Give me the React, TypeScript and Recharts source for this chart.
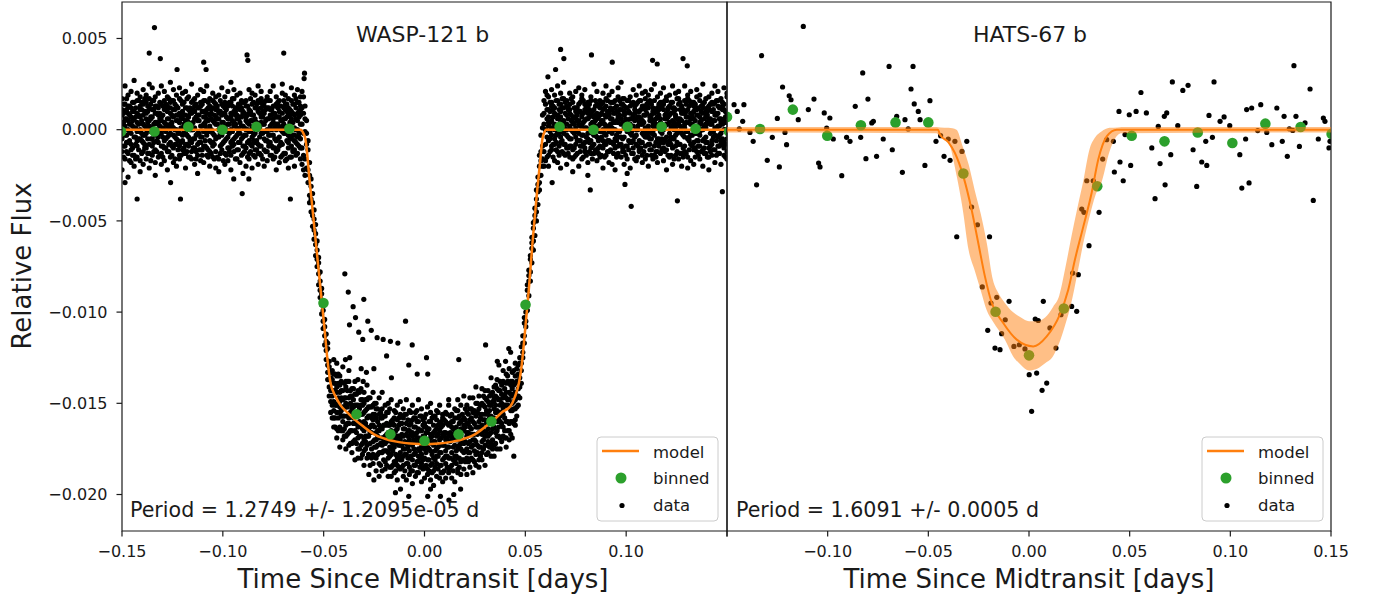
import { ComposedChart, XAxis, YAxis, Scatter, Line, Area, ReferenceArea } from "recharts";

const FONT = "DejaVu Sans";
const ORANGE = "#ff7f0e";
const GREEN = "#2ca02c";
const INK = "#1a1a1a";

// axes
const xTicks = [-0.15, -0.1, -0.05, 0, 0.05, 0.1, 0.15];
const yTicks = [0.005, 0, -0.005, -0.01, -0.015, -0.02];
const xDomain = [-0.15, 0.15];
const yDomain = [-0.022, 0.007];

// WASP-121 b: x in 1e-3 days, flux in 1e-4. Rows are [time, flux, flux, ...]
const waspColumns: number[][] = [
  [-150, 8, -12, 3, 17, -5, -22, 11, -1],
  [-148.5, -9, 14, 2, -16, 6, 24, -3, 10],
  [-147, 5, -7, 19, -13, 0, 9, -26, 13],
  [-145.5, -2, 12, -18, 7, 21, -8, 3, -11],
  [-144, 15, -4, 6, -20, 10, -14, 27, 1],
  [-142.5, -6, 9, -15, 16, -1, 4, -9, 20],
  [-141, 11, -17, 0, 7, -23, 13, -5, 18],
  [-139.5, -12, 3, 22, -7, 8, -3, 14, -19],
  [-138, 6, -10, 15, -2, 19, -16, 1, 9],
  [-136.5, 2, 17, -8, 12, -13, 5, -21, 25],
  [-135, -14, 7, 1, -5, 11, 23, -9, 16],
  [-133.5, 9, -3, 13, -18, 4, -11, 18, -25],
  [-132, -7, 20, -1, 8, -15, 3, 12, -4],
  [-130.5, 14, -9, 5, -19, 24, -2, 7, -13],
  [-129, 0, 11, -6, 16, -10, 21, -17, 4],
  [-127.5, -4, 6, 18, -12, 2, -22, 10, 13],
  [-126, 12, -15, 3, 9, -7, 15, 26, -2],
  [-124.5, -10, 1, 16, -3, 7, -18, 11, 22],
  [-123, 5, -8, -20, 13, 0, 19, -5, 8],
  [-121.5, 17, -2, 9, -14, 4, -9, 23, -16],
  [-120, -3, 10, -11, 6, 20, -6, 1, 14],
  [-118.5, 8, -13, 21, -1, 12, -21, 5, -8],
  [-117, -15, 4, 7, 18, -9, 2, -4, 11],
  [-115.5, 3, 15, -7, -16, 9, 25, -12, 0],
  [-114, 10, -5, 13, -10, 1, -19, 17, 6],
  [-112.5, -8, 19, -2, 5, -14, 8, -24, 12],
  [-111, 13, -11, 2, 22, -4, 15, -7, -17],
  [-109.5, -1, 7, -18, 10, 16, -9, 3, 21],
  [-108, 6, -14, 11, -3, 24, 0, -10, 9],
  [-106.5, -12, 2, 17, -6, 8, -20, 13, -1],
  [-105, 16, -7, -2, 12, -15, 5, 20, -9],
  [-103.5, -5, 11, 7, -21, 3, 14, -12, 18],
  [-102, 9, -16, 0, 6, 19, -4, 10, -23],
  [-100.5, -11, 4, 14, -8, 1, 23, -3, 8],
  [-99, 2, 18, -13, 9, -6, 12, -19, 15],
  [-97.5, 13, -4, 6, -17, 21, -10, 3, -1],
  [-96, -7, 9, -22, 15, 0, 7, -14, 26],
  [-94.5, 4, -12, 10, 2, -8, 17, 22, -5],
  [-93, -16, 6, 1, 19, -3, -11, 12, 8],
  [-91.5, 11, -2, -18, 7, 14, 4, -7, 20],
  [-90, -4, 15, 9, -13, -24, 10, 2, -9],
  [-88.5, 7, -10, 16, 0, 5, -20, 13, -3],
  [-87, -13, 3, -6, 22, 11, -1, -16, 9],
  [-85.5, 5, 20, -9, -4, 14, 8, -21, 1],
  [-84, -2, -15, 12, 6, -11, 19, 4, -7],
  [-82.5, 16, 1, -8, 10, -19, 3, 24, -13],
  [-81, -9, 12, 4, -14, 7, -2, 17, 21],
  [-79.5, 3, -20, 15, -5, 9, 13, -11, -1],
  [-78, 12, -6, -1, 18, -12, 6, 0, -17],
  [-76.5, -14, 8, 21, 2, -7, -3, 11, 16],
  [-75, 6, -3, -16, 13, 24, -10, 4, 9],
  [-73.5, -6, 14, 0, -12, 3, 18, -22, 7],
  [-72, 10, -9, 7, 16, -18, 1, 13, -4],
  [-70.5, -1, 5, -14, 9, 20, -8, 2, 25],
  [-69, 14, -17, 11, -2, 6, -13, 19, 0],
  [-67.5, -10, 2, 17, -7, -21, 12, 8, -3],
  [-66, 4, 16, -5, 10, -9, 23, -15, 6],
  [-64.5, -3, -11, 8, 19, 1, -6, 14, -20],
  [-63, 9, 0, -13, 5, 15, -4, 22, -8],
  [-61.5, -5, 13, 3, -10, 8, 18, -16, 11],
  // ingress
  [-60.75, 12, -10, 3, -19, 21],
  [-60, 9, -14, -2, 18, -22],
  [-59.25, -16, 6, -1, 13, -25],
  [-58.5, -2, -21, -8, 5],
  [-57.75, -29, -11, -22, -6],
  [-57, -18, -36, -25, -40],
  [-56.25, -45, -27, -38, -31],
  [-55.5, -35, -53, -47, -40],
  [-54.75, -60, -44, -55, -49],
  [-54, -52, -69, -63, -57],
  [-53.25, -75, -61, -71, -66],
  [-52.5, -70, -85, -79, -73],
  [-51.75, -92, -78, -88, -83],
  [-51, -87, -101, -96, -90],
  [-50.25, -109, -95, -105, -99],
  [-49.5, -104, -118, -113, -108],
  [-48.75, -126, -112, -121, -116],
  [-48, -120, -133, -129, -137, -117],
  [-47.25, -141, -127, -137, -146, -130],
  [-46.5, -133, -149, -143, -155, -136],
  [-45.75, -151, -137, -146, -158, -132],
  // in transit
  [-45, -134, -154, -143, -163, -126, -149, -139, -158],
  [-43.5, -155, -135, -164, -144, -151, -128, -169, -141],
  [-42, -135, -155, -144, -174, -149, -163, -140, -152],
  [-40.5, -165, -148, -130, -160, -143, -170, -152, -157],
  [-39, -152, -168, -141, -147, -175, -138, -162, -150],
  [-37.5, -173, -147, -161, -138, -157, -166, -132, -158],
  [-36, -151, -177, -157, -146, -165, -153, -142, -172],
  [-34.5, -138, -165, -170, -156, -145, -181, -151, -161],
  [-33, -169, -156, -143, -175, -151, -163, -180, -137],
  [-31.5, -148, -173, -162, -156, -180, -142, -168, -151],
  [-30, -165, -144, -176, -155, -160, -184, -150, -170],
  [-28.5, -158, -180, -153, -168, -140, -173, -163, -148],
  [-27, -179, -157, -163, -147, -172, -152, -184, -166],
  [-25.5, -156, -171, -144, -178, -162, -183, -159, -151],
  [-24, -174, -153, -187, -166, -150, -170, -158, -180],
  [-22.5, -165, -177, -156, -147, -183, -162, -169, -190],
  [-21, -153, -169, -177, -164, -158, -187, -144, -173],
  [-19.5, -182, -162, -151, -176, -172, -157, -186, -168],
  [-18, -162, -190, -166, -155, -180, -169, -150, -177],
  [-16.5, -175, -160, -185, -171, -148, -178, -165, -190],
  [-15, -158, -174, -162, -188, -169, -154, -182, -166],
  [-13.5, -180, -151, -172, -164, -192, -159, -168, -184],
  [-12, -170, -186, -156, -177, -161, -173, -149, -181],
  [-10.5, -153, -179, -184, -168, -190, -164, -175, -158],
  [-9, -178, -167, -161, -192, -156, -183, -172, -148],
  [-7.5, -162, -185, -170, -154, -176, -189, -165, -180],
  [-6, -187, -168, -151, -173, -181, -159, -194, -166],
  [-4.5, -167, -190, -163, -158, -177, -184, -155, -171],
  [-3, -182, -160, -175, -188, -148, -169, -179, -164],
  [-1.5, -157, -178, -193, -165, -172, -153, -183, -174],
  [0, -175, -163, -158, -185, -168, -191, -161, -180],
  [1.5, -164, -186, -170, -152, -181, -166, -174, -189],
  [3, -184, -169, -155, -176, -160, -192, -167, -150],
  [4.5, -166, -180, -187, -162, -173, -157, -195, -171],
  [6, -179, -154, -168, -183, -164, -175, -159, -190],
  [7.5, -161, -177, -191, -170, -151, -184, -165, -173],
  [9, -173, -158, -181, -188, -167, -162, -193, -156],
  [10.5, -155, -183, -166, -176, -191, -170, -160, -179],
  [12, -186, -168, -151, -180, -162, -174, -188, -148],
  [13.5, -167, -191, -160, -156, -177, -184, -170, -163],
  [15, -179, -164, -173, -193, -153, -166, -182, -158],
  [16.5, -158, -175, -154, -170, -186, -148, -180, -188],
  [18, -175, -160, -182, -164, -168, -189, -151, -172],
  [19.5, -162, -186, -165, -177, -146, -158, -172, -181],
  [21, -180, -168, -155, -151, -175, -189, -161, -166],
  [22.5, -153, -177, -171, -159, -185, -163, -181, -147],
  [24, -170, -147, -160, -181, -167, -155, -188, -173],
  [25.5, -157, -178, -184, -163, -150, -171, -156, -141],
  [27, -181, -160, -153, -166, -174, -146, -163, -185],
  [28.5, -162, -171, -142, -156, -177, -167, -150, -181],
  [30, -173, -147, -168, -152, -159, -184, -156, -143],
  [31.5, -149, -164, -156, -177, -143, -161, -171, -168],
  [33, -166, -151, -179, -157, -136, -172, -145, -160],
  [34.5, -141, -173, -158, -163, -149, -153, -179, -147],
  [36, -160, -147, -168, -137, -165, -142, -154, -175],
  [37.5, -151, -175, -143, -157, -160, -148, -138, -169],
  [39, -168, -151, -147, -163, -138, -156, -132, -153],
  [40.5, -144, -160, -169, -139, -151, -174, -147, -134],
  [42, -161, -139, -152, -165, -131, -148, -170, -144],
  [43.5, -146, -160, -133, -142, -154, -169, -138, -150],
  [45, -153, -135, -159, -144, -128, -148, -139, -162],
  // egress
  [45.75, -138, -152, -147, -131, -157],
  [46.5, -146, -134, -142, -151, -129],
  [47.25, -128, -141, -136, -147, -125],
  [48, -132, -119, -128, -139],
  [48.75, -113, -125, -117, -122],
  [49.5, -117, -106, -113, -103],
  [50.25, -96, -108, -100, -105],
  [51, -99, -88, -95, -85],
  [51.75, -80, -91, -83, -77],
  [52.5, -83, -71, -78, -69],
  [53.25, -62, -73, -65, -59],
  [54, -66, -54, -61, -51],
  [54.75, -47, -58, -50, -43],
  [55.5, -50, -38, -45, -33],
  [56.25, -30, -41, -34, -26],
  [57, -33, -20, -29, -14],
  [57.75, -12, -25, -17, -3],
  [58.5, -16, 1, -9, 8, -20],
  [59.25, 3, -12, 9, -20, 16],
  [60, -8, 14, 0, -17, 21],
  [60.75, 6, -15, 11, -4, 19],
  // after egress
  [61.5, 7, -14, 2, 18, -6, 11, -20, 4],
  [63, -11, 5, 15, -3, 22, -9, 1, 13],
  [64.5, 3, 19, -8, -17, 9, 0, 12, -5],
  [66, 16, -2, 6, -12, -1, 24, -18, 8],
  [67.5, -7, 10, -21, 4, 14, -4, 7, 20],
  [69, 12, -13, 1, 17, -8, 5, 26, -2],
  [70.5, -3, 8, 13, -10, 3, -19, 16, 0],
  [72, 9, -5, -15, 11, 20, 2, -9, 14],
  [73.5, -16, 15, 4, -1, -11, 18, 6, -23],
  [75, 1, -8, 21, 7, -4, 12, -14, 10],
  [76.5, 14, 3, -6, -20, 10, -2, 23, 5],
  [78, -9, 17, 9, 2, -16, 7, -3, 19],
  [79.5, 5, -12, 14, -7, 1, 22, -10, 11],
  [81, -2, 6, -18, 15, 9, -5, 13, -25],
  [82.5, 18, -10, 0, 8, -13, 16, 3, -6],
  [84, -13, 4, 11, -3, 25, -8, 7, 1],
  [85.5, 6, 21, -4, -11, 2, 14, -17, 9],
  [87, -5, -15, 16, 3, 12, -1, 8, -9],
  [88.5, 11, 0, -10, 20, -6, 5, -21, 15],
  [90, -8, 13, 7, -14, 17, -3, 2, 24],
  [91.5, 2, -6, 19, 10, -18, 8, -12, -1],
  [93, 15, -19, -2, 6, 1, 21, 11, -7],
  [94.5, -10, 9, 12, -5, -22, 4, 16, 0],
  [96, 4, -1, -13, 23, 7, -9, 10, 18],
  [97.5, -15, 11, 3, -8, 14, 26, -4, 6],
  [99, 8, -4, 17, 1, -12, 10, -19, 13],
  [100.5, -1, 16, -9, 12, 5, -16, 2, -24],
  [102, 13, -7, 6, -21, 18, -2, 9, 3],
  [103.5, -6, 2, 22, 8, -10, 15, -13, 7],
  [105, 10, -17, -3, 14, 0, 6, 19, -8],
  [106.5, -12, 7, 10, -6, 24, -11, 4, 16],
  [108, 3, 20, -14, 5, -2, 13, -7, -18],
  [109.5, 17, -9, 1, -16, 11, -4, 21, 8],
  [111, -4, 12, 15, 0, -8, 19, -20, 2],
  [112.5, 8, -2, -11, 22, 6, -14, 14, -5],
  [114, -14, 5, 9, -9, 16, 1, -3, 25],
  [115.5, 1, -18, 18, 7, -5, 10, 12, -12],
  [117, 12, 4, -7, -13, 20, -1, 6, 15],
  [118.5, -7, 14, 2, 11, -17, 23, -10, 0],
  [120, 6, -11, 16, -4, 3, -22, 9, 18],
  [121.5, -2, 19, -8, 13, 8, -6, -15, 4],
  [123, 15, -5, 5, -19, 12, 2, 24, -10],
  [124.5, -9, 8, 20, 1, -14, 11, -3, 7],
  [126, 4, -16, -1, 17, 6, -8, 14, 21],
  [127.5, -13, 10, 13, -2, -20, 5, 0, 9],
  [129, 9, 1, -12, 24, 3, 16, -9, -4],
  [130.5, -5, 17, 7, -15, 11, -1, 19, -21],
  [132, 14, -8, 3, 9, -3, 21, -17, 6],
  [133.5, -11, 6, -19, 15, 2, -7, 10, 13],
  [135, 2, 22, 11, -6, -12, 8, -2, 18],
  [136.5, 16, -3, -9, 4, 19, -16, 7, -1],
  [138, -6, 9, 14, -20, 0, 12, 25, -11],
  [139.5, 7, -13, 1, 10, -7, 17, -4, 3],
  [141, -15, 4, 18, 6, 13, -10, -22, 11],
  [142.5, 10, -1, -6, 20, -14, 3, 15, -8],
  [144, -3, 15, 8, -11, 5, 24, -18, 1],
  [145.5, 13, -9, 21, 2, -4, -13, 9, 16],
  [147, -8, 6, -2, 12, 17, -19, 4, -6],
  [148.5, 5, -14, 11, -7, 23, 0, -10, 14],
  [150, -1, 18, -5, 9, -16, 7, 20, -12],
];

// second pass of exposures, sampled between the columns above
const waspColumns2: number[][] = [
  [-149.25, 4, -9, 14, -15, 0, 9],
  [-147.75, -3, 11, -12, 6, 17, -7],
  [-146.25, 13, -1, -17, 8, -6, 3],
  [-144.75, -10, 5, 2, 15, -14, 10],
  [-143.25, 7, -16, 12, -4, 1, -8],
  [-141.75, -1, 8, -11, 3, 16, -5],
  [-140.25, 15, -6, 5, -13, -2, 11],
  [-138.75, -8, 2, 17, -10, 10, -3],
  [-137.25, 10, -13, -5, 4, 13, 0],
  [-135.75, -5, 14, 7, -17, -1, 6],
  [-134.25, 3, -7, 11, -2, 16, -12],
  [-132.75, -12, 9, 0, 13, -6, 4],
  [-131.25, 6, -2, -14, 9, 2, 15],
  [-129.75, -4, 13, 8, -9, -15, 1],
  [-128.25, 11, -10, 3, -5, 14, -1],
  [-126.75, 1, 6, -12, 17, -3, -8],
  [-125.25, -9, 16, 4, -14, 8, 2],
  [-123.75, 14, -4, -8, 0, 11, -16],
  [-122.25, -2, 8, 12, -11, 5, -6],
  [-120.75, 9, -14, 1, 7, -7, 16],
  [-119.25, -13, 3, 15, -1, -10, 8],
  [-117.75, 5, -8, -3, 12, 17, -12],
  [-116.25, -6, 12, 9, -15, 2, 0],
  [-114.75, 16, 0, -10, 4, -5, 11],
  [-113.25, -3, -12, 6, 14, -16, 7],
  [-111.75, 8, 5, -7, -2, 12, -11],
  [-110.25, -11, 14, 2, 10, -4, -14],
  [-108.75, 2, -6, 16, -9, 7, 4],
  [-107.25, 12, -15, -1, 5, -11, 15],
  [-105.75, -7, 9, 11, -13, 0, 6],
  [-104.25, 4, -3, -16, 8, 15, -8],
  [-102.75, -15, 11, 6, -4, 3, 13],
  [-101.25, 10, -9, -2, 16, -13, 1],
  [-99.75, -1, 4, 13, -7, 9, -17],
  [-98.25, 7, -14, 0, 11, -5, 14],
  [-96.75, -10, 6, 15, -2, -12, 3],
  [-95.25, 13, -1, -9, 5, 17, -6],
  [-93.75, -4, 10, 3, -16, 8, 12],
  [-92.25, 6, -11, 14, 0, -7, -2],
  [-90.75, -14, 2, -5, 12, 16, 7],
  [-89.25, 9, 15, -12, -3, 1, -9],
  [-87.75, 0, -7, 8, 13, -15, 4],
  [-86.25, -12, 5, 17, -8, 10, -1],
  [-84.75, 8, -3, -14, 2, -6, 15],
  [-83.25, -6, 12, 4, -11, 14, 0],
  [-81.75, 15, -9, 1, 9, -4, -13],
  [-80.25, -2, 7, -16, 14, 3, 10],
  [-78.75, 5, -12, 11, -6, -1, 16],
  [-77.25, -9, 16, -3, 6, 12, -7],
  [-75.75, 11, 0, 8, -14, -9, 3],
  [-74.25, -15, 9, 13, 1, -5, -10],
  [-72.75, 3, -5, -11, 15, 7, 12],
  [-71.25, -7, 13, 5, -8, 0, -15],
  [-69.75, 12, -2, -13, 3, 16, 6],
  [-68.25, -1, 10, 7, -16, -6, 14],
  [-66.75, 8, -15, 2, 11, 4, -4],
  [-65.25, -11, 4, 14, -3, -12, 9],
  [-63.75, 6, 17, -7, 0, 12, -14],
  [-62.25, -4, -9, 10, 7, -2, 15],
  [-44.25, -143, -158, -134, -151, -139, -163],
  [-42.75, -158, -139, -150, -165, -134, -147],
  [-41.25, -143, -157, -165, -147, -154, -138],
  [-39.75, -157, -147, -139, -164, -152, -168],
  [-38.25, -143, -167, -152, -161, -138, -157],
  [-36.75, -165, -155, -146, -172, -150, -143],
  [-35.25, -152, -171, -161, -148, -158, -142],
  [-33.75, -172, -151, -157, -166, -145, -161],
  [-32.25, -160, -168, -144, -175, -153, -156],
  [-30.75, -151, -164, -172, -156, -178, -148],
  [-29.25, -168, -148, -161, -175, -154, -171],
  [-27.75, -157, -178, -152, -164, -168, -147],
  [-26.25, -175, -162, -166, -152, -180, -158],
  [-24.75, -163, -174, -150, -170, -156, -179],
  [-23.25, -153, -168, -178, -160, -173, -165],
  [-21.75, -172, -158, -163, -184, -155, -177],
  [-20.25, -162, -181, -171, -157, -169, -176],
  [-18.75, -184, -167, -155, -176, -161, -171],
  [-17.25, -168, -179, -162, -185, -153, -174],
  [-15.75, -159, -176, -184, -167, -172, -161],
  [-14.25, -178, -155, -170, -182, -165, -187],
  [-12.75, -162, -173, -185, -158, -179, -168],
  [-11.25, -173, -161, -167, -181, -157, -185],
  [-9.75, -156, -178, -175, -164, -187, -171],
  [-8.25, -183, -168, -159, -174, -165, -180],
  [-6.75, -167, -187, -179, -155, -172, -161],
  [-5.25, -175, -163, -184, -170, -158, -178],
  [-3.75, -160, -182, -166, -188, -169, -154],
  [-2.25, -180, -171, -157, -176, -185, -165],
  [-0.75, -168, -186, -162, -173, -159, -181],
  [0.75, -184, -166, -177, -156, -174, -163],
  [2.25, -164, -181, -170, -187, -160, -175],
  [3.75, -178, -158, -183, -168, -188, -172],
  [5.25, -157, -176, -165, -181, -171, -185],
  [6.75, -174, -162, -186, -167, -155, -179],
  [8.25, -163, -184, -169, -177, -160, -188],
  [9.75, -187, -166, -159, -173, -180, -168],
  [11.25, -169, -179, -185, -161, -156, -174],
  [12.75, -180, -157, -171, -185, -166, -161],
  [14.25, -160, -174, -181, -164, -187, -169],
  [15.75, -176, -163, -154, -183, -170, -179],
  [17.25, -157, -185, -166, -173, -161, -180],
  [18.75, -171, -165, -181, -156, -176, -159],
  [20.25, -163, -182, -159, -176, -153, -171],
  [21.75, -182, -166, -172, -156, -177, -161],
  [23.25, -158, -174, -153, -167, -180, -164],
  [24.75, -170, -154, -176, -182, -161, -167],
  [26.25, -150, -167, -163, -177, -155, -173],
  [27.75, -174, -158, -179, -156, -163, -151],
  [29.25, -159, -175, -151, -165, -170, -146],
  [30.75, -173, -161, -154, -178, -148, -166],
  [32.25, -154, -146, -167, -158, -174, -151],
  [33.75, -164, -170, -149, -144, -160, -175],
  [35.25, -146, -155, -166, -172, -151, -140],
  [36.75, -163, -148, -143, -168, -155, -159],
  [38.25, -155, -171, -150, -145, -161, -140],
  [39.75, -165, -151, -158, -142, -146, -169],
  [41.25, -138, -160, -151, -165, -135, -148],
  [42.75, -154, -140, -160, -145, -167, -138],
  [44.25, -140, -153, -132, -161, -145, -149],
  [62.25, 10, -5, -12, 4, 15, -1],
  [63.75, -8, 13, 1, -15, 7, 11],
  [65.25, 2, -11, 16, 8, -3, -7],
  [66.75, 14, 6, -9, -2, 11, -14],
  [68.25, -6, -1, 12, -12, 4, 17],
  [69.75, 9, -14, 3, 15, -8, 0],
  [71.25, -13, 11, -4, 6, 13, -10],
  [72.75, 5, 0, 17, -9, -5, 8],
  [74.25, -2, -10, 7, 12, -15, 3],
  [75.75, 12, 8, -13, -1, 5, -6],
  [77.25, -9, 15, 2, -6, -12, 10],
  [78.75, 4, -3, -8, 16, 9, -15],
  [80.25, -14, 10, 13, 1, -4, 6],
  [81.75, 7, -12, 0, -7, 14, 11],
  [83.25, 0, 4, -16, 10, -9, -2],
  [84.75, -11, 16, 5, -3, 8, 13],
  [86.25, 13, -6, -10, 7, 2, -13],
  [87.75, -4, 9, 14, -14, -1, 5],
  [89.25, 8, -15, -2, 3, 12, -8],
  [90.75, -12, 2, 10, 16, -6, 1],
  [92.25, 3, 12, -7, -11, 6, 15],
  [93.75, 15, -8, 4, 0, -13, 9],
  [95.25, -6, 5, -15, 13, 10, -3],
  [96.75, 11, -1, 8, -8, -4, 16],
  [98.25, -10, 14, -5, 4, 17, -12],
  [99.75, 2, -9, 12, 9, -14, 6],
  [101.25, 16, 3, -11, -6, 1, 10],
  [102.75, -3, -13, 6, 14, -7, -1],
  [104.25, 9, 11, -4, -16, 5, 13],
  [105.75, -15, 0, 15, 2, -9, 7],
  [107.25, 6, -7, 3, 11, 16, -10],
  [108.75, -1, 13, -12, -3, 8, 4],
  [110.25, 12, -4, 9, -14, -2, 14],
  [111.75, -8, 7, 16, 5, -11, -5],
  [113.25, 4, -16, -1, 12, 10, 2],
  [114.75, -12, 10, 6, -7, 3, -15],
  [116.25, 14, 1, -9, 8, -5, 11],
  [117.75, -5, -11, 13, 0, 15, -2],
  [119.25, 8, 16, -6, -12, 2, 6],
  [120.75, -14, 3, 11, 7, -8, 12],
  [122.25, 1, -8, -14, 15, 9, -4],
  [123.75, 10, 12, 4, -5, -16, 0],
  [125.25, -7, -2, 17, 3, 6, -12],
  [126.75, 15, 6, -8, -13, 11, 2],
  [128.25, -3, 11, 1, 9, -10, -15],
  [129.75, 7, -13, 14, -1, 4, 10],
  [131.25, -11, 4, -6, 16, 13, -4],
  [132.75, 3, 15, 9, -9, -3, 7],
  [134.25, 12, -10, -2, 5, -15, 14],
  [135.75, -9, 1, 12, -14, 8, -6],
  [137.25, 5, 13, -12, 10, 0, 3],
  [138.75, -13, -5, 6, 2, 15, -10],
  [140.25, 10, 8, -15, -7, 4, 12],
  [141.75, -2, -12, 3, 14, -9, 6],
  [143.25, 14, 5, -4, -11, 11, -1],
  [144.75, -6, 16, 9, 1, -14, 8],
  [146.25, 2, -9, -13, 12, 6, -3],
  [147.75, 11, 3, 15, -5, -8, 13],
  [149.25, -8, 10, 0, -15, 7, 4],
];

// stray points, same units as above
const waspOutliers: number[][] = [
  [-133.9, 56], [-136.5, 42], [-131, 39], [-122.7, 33], [-109.5, 37], [-108.3, 33], [-88, 41], [-87.6, 38],
  [-69.8, 42], [-59.5, 31], [-59.7, 28], [-142.5, -38], [-121, -38], [-90.4, -35], [-66.5, -38], [-148.5, -29],
  [-94.6, -27], [-87.1, -27], [-125.9, -29],
  [67.5, 44], [69.1, 39], [82.8, 41], [93.1, 37], [113.1, 38], [115.4, 36], [128.2, 39], [130.3, 35], [65, 33],
  [61.2, 29], [82.2, -33], [102.5, -42], [125.4, -39], [147.7, -34], [99.4, -30], [63.3, -29],
  [-39.5, -79], [-37.8, -89], [-35.4, -97], [-30.1, -93], [-37.2, -107], [-34.2, -103], [-32.6, -111], [-28.1, -105],
  [-26.4, -110], [-23.5, -114], [-30.6, -115], [-37.1, -125], [-31.4, -131], [-20.5, -115], [-16.9, -116], [-13.2, -117],
  [-9.4, -105], [-6.1, -118], [1, -125], [-18.8, -124], [-7.8, -129], [-16.4, -136], [-3.6, -134], [1.6, -134],
  [17, -126], [30.3, -118], [41.8, -120], [36.1, -127], [-39.2, -126], [-30.4, -138], [-28.8, -133], [-25.1, -131],
  [40.2, -127], [36.9, -129], [42.7, -122],
  [-11.9, -197], [-7.8, -201], [1.6, -201], [7.9, -201], [12.1, -203], [14.5, -200], [17.9, -197], [-25.1, -192],
  [-27.6, -189], [44.3, -179], [-14.4, -199], [3, -197],
];

const waspBinX = [-150.5, -133.9, -117.1, -100.2, -83.3, -67, -50.1, -33.7, -16.9, 0, 16.9, 33.2, 50.1, 67, 83.8, 100.7, 117.6, 134.4, 151];
const waspBinY = [-1, -1, 1.6, 0, 1.6, 0.5, -95, -156, -167, -170.5, -167, -160, -96, 1.6, 0, 1.6, 1.6, 0.5, -1];

const waspModelX = [-150, -61.2, -60.3, -59, -57, -55, -53, -51, -49.5, -48.3, -46.6, -44.1, -41.7, -38.3, -34, -30, -25, -20, -14, -7, 0, 7, 14, 20, 25, 30, 34, 38.3, 42.7, 44.8, 46.8, 48.1, 49.3, 51.7, 53.7, 55.9, 57.4, 58.4, 59.4, 60.2, 150];
const waspModelY = [0, 0, -1.5, -5.5, -27.5, -49.5, -71.5, -93.5, -110, -124.3, -138.9, -146.2, -151, -155, -159.5, -163, -167, -169.3, -171, -172, -172.4, -172, -171, -169.3, -167, -163, -159.5, -155, -151.5, -146.5, -139, -130, -117, -88, -60, -33, -17, -5.5, -1.5, 0, 0];

// HATS-67 b, same units
const hatsPoints: number[][] = [
  [-146.5, 13.7], [-144.9, 10], [-141.6, 13.7], [-142.2, 4.6], [-143.9, 0.4], [-138.6, -1.5], [-137, -6.4], [-135.3, -30.2],
  [-132.8, 40.6], [-130, -16.8], [-127.5, -4.2], [-125, 6.2], [-124, -20.4], [-122.4, 23.4], [-121.2, -1.5], [-120.4, -8.2],
  [-119.1, 18.6], [-118.2, 16.4], [-114.6, 5.5], [-112.1, 56.6], [-109.6, 11], [-106.8, 16.8], [-104.5, -18.3], [-103.8, -20.4],
  [-101.7, 9.2], [-100.5, 0.9], [-98.9, 6.4], [-97.2, -5.1], [-93, -25.2], [-90.6, -4.2], [-88.9, -6.4], [-86.3, 12.8],
  [-83.6, -4.2], [-82.6, 31.1], [-81, -15.9], [-80, 16.8], [-78.1, 3.7], [-77.3, 4.6], [-75.7, -14.6], [-72.4, -5.1],
  [-69.5, 34.7], [-67.9, -11], [-65.7, 7.3], [-62.9, -23.4], [-61.6, 5.5], [-60, 0.4], [-58.6, 22.3], [-57.6, 34.7],
  [-57, 14.1], [-55, 10], [-54.1, 5.5], [-51.7, -19.6], [-49.2, 15.9], [-46.2, -6.4], [-43.9, -3.3], [-40.1, -5.1],
  [-36.8, -6.4], [-42.2, -14.6], [-39.2, -16.8], [-33.3, -11.9], [-30.9, -6.4], [-35.9, -58.7], [-28.5, -42.4], [-25.6, -52.1],
  [-19.6, -58.7], [-23.2, -86.2], [-16, -91.9], [-18.9, -95], [-9.9, -94.1], [-20.5, -110], [-13.6, -111.8], [-11.8, -104.2],
  [-16.9, -119.7], [-14.4, -120.6], [-7.5, -118.8], [-4.8, -117.9], [-2, -120.2], [7.1, -94.1], [3.1, -103.8], [4.6, -104.6],
  [10.4, -108.7], [13.4, -119.7], [0.1, -134.3], [3.8, -133.4], [8.8, -138.9], [6.5, -142.9], [1.3, -154.4], [15.9, -101.4],
  [21.2, -96.9], [23.7, -99.6], [21.7, -78.6], [24.5, -79.5], [29.8, -63.6], [26.2, -43.5], [27.3, -45.3], [34.8, -45.3],
  [28.7, -28], [31.9, -28], [36.6, -16.1], [38.6, -5.5], [41.9, -6.4], [45.2, -17.7], [42.4, -23.2], [46.8, -28],
  [47.7, -2.7], [44.7, 10], [49.8, 8.2], [53.2, 10], [55.6, 20.4], [58.3, 9.2], [64.2, 1.8], [67.2, 7.3],
  [68.4, 9.2], [71.2, 26.2], [76.4, 21.5], [79, 24.3], [73.9, 2.2], [70.4, -13.7], [65.1, -18.6], [61, -10],
  [67.6, -30.2], [62.6, -37.8], [50.5, -19.6], [81.5, -11], [85.8, -17.7], [88.3, -19.6], [83.3, -31.1], [87.8, -6.4],
  [89.4, 7.8], [91.1, -4.2], [91.9, 26.2], [94.9, 4.6], [96.9, 7], [99.7, 2.2], [104.7, -13.7], [105.7, -32],
  [109.3, -29.2], [107.6, -5.1], [108.1, 11], [110.6, 11.9], [113.6, -0.5], [115.1, 13.7], [118.1, -1.5], [120.6, -8.2],
  [123.1, 11.9], [125.8, -6.4], [126.7, 7.3], [128.3, -14.6], [129.3, 0.5], [131, -0.4], [131.6, 35.1], [132.6, 7.3],
  [134.3, -9.2], [137.1, 3.7], [139.6, 22.3], [141.2, -38.8], [143.7, -5.1], [146.2, 6.4], [147, 4.6], [149, -10],
  [149.5, -6.4], [151.4, 7.3],
];

const hatsBinX = [-150, -133.6, -117.3, -100.2, -83.5, -66.3, -50, -32.6, -16.6, 0, 17.3, 33.9, 51, 67.3, 83.8, 101, 117.4, 134.9, 150.3];
const hatsBinY = [7, 0.4, 11, -3.3, 2.4, 4, 4, -24, -99.8, -123.7, -98, -31, -3.3, -6.4, -1.5, -7.3, 3.3, 1.5, -2.4];

const hatsModelX = [-150, -45.2, -44.2, -40, -36.8, -32.6, -28.5, -25.2, -21.9, -18.5, -12.8, -6.1, 2.1, 8.8, 15.3, 19.5, 22.8, 27, 31.1, 34.4, 38.6, 43.6, 150];
const hatsModelY = [0, 0, -2.7, -7, -12.8, -25.6, -43.9, -62.1, -80.4, -95, -106, -115.1, -118.8, -113.3, -101.4, -87.7, -71.3, -53, -34.7, -16.4, -3.7, 0, 0];

const hatsBandX = [-150, -46, -44, -40, -36, -33, -30, -27, -24, -21, -18, -15, -12, -8, -4, 0, 4, 8, 12, 15, 18, 21, 24, 27, 30, 33, 36, 40, 44, 46, 150];
const hatsBandHi = [1.5, 1.5, 1.2, 1, 0, -9, -19, -33, -46, -62, -82, -90, -95, -100, -103, -105, -105, -103, -97, -91, -76, -59, -43, -28, -11, -4, -1, 1, 1.2, 1.5, 1.5];
const hatsBandLo = [-1.5, -2, -4, -7, -25, -43, -66, -77, -88, -99, -105, -110, -115, -124, -129, -132, -131, -128, -124, -117, -107, -95, -79, -62, -48, -36, -29, -12, -3, -2, -1.5];

type Pt = { x: number; y: number };
type BandPt = { x: number; band: number[] };
const days = (v: number) => v / 1000;
const flux = (v: number) => v / 10000;
const pairs = (xs: number[], ys: number[]): Pt[] => xs.map((x, i) => ({ x: days(x), y: flux(ys[i]) }));
const fromColumns = (rows: number[][]): Pt[] =>
  rows.flatMap(([x, ...ys]) => ys.map((y) => ({ x: days(x), y: flux(y) })));

const waspData: Pt[] = [
  ...fromColumns(waspColumns),
  ...fromColumns(waspColumns2),
  ...waspOutliers.map(([x, y]) => ({ x: days(x), y: flux(y) })),
];
const hatsData: Pt[] = hatsPoints.map(([x, y]) => ({ x: days(x), y: flux(y) }));
const hatsBand: BandPt[] = hatsBandX.map((x, i) => ({ x: days(x), band: [flux(hatsBandLo[i]), flux(hatsBandHi[i])] }));

const signed = (v: number, dp: number) => (v < -1e-9 ? "\u2212" : "") + Math.abs(v).toFixed(dp);

const dot = (r: number, fill: string) => (p: any) =>
  p.cx == null ? <g /> : <circle cx={p.cx} cy={p.cy} r={r} fill={fill} />;

const tickStyle = { fill: INK, fontSize: 16, fontFamily: FONT };

type PanelProps = {
  left: number;
  width: number;
  marginRight: number;
  yWidth: number;
  yLabels: boolean;
  skipX: number;
  data: Pt[];
  model: Pt[];
  binned: Pt[];
  band?: BandPt[];
  lineWidth: number;
};

function Panel(props: PanelProps) {
  const { left, width, marginRight, yWidth, yLabels, skipX, data, model, binned, band, lineWidth } = props;
  return (
    <>
      <div style={{ position: "absolute", left, top: 0 }}>
        <ComposedChart width={width} height={597} margin={{ top: 2, right: marginRight, bottom: 0, left: 0 }}>
          <XAxis
            type="number"
            dataKey="x"
            domain={xDomain}
            ticks={xTicks}
            interval={0}
            allowDataOverflow
            height={66}
            axisLine={false}
            tickLine={{ stroke: INK, strokeWidth: 1.2 }}
            tickSize={5.5}
            tickMargin={9}
            tick={tickStyle}
            tickFormatter={(v: number) => (Math.abs(v - skipX) < 1e-9 ? "" : signed(v, 2))}
          />
          <YAxis
            type="number"
            dataKey="y"
            domain={yDomain}
            ticks={yTicks}
            interval={0}
            allowDataOverflow
            width={yWidth}
            axisLine={false}
            tickLine={{ stroke: INK, strokeWidth: 1.2 }}
            tickSize={5.5}
            tickMargin={9}
            tick={yLabels ? tickStyle : false}
            tickFormatter={(v: number) => signed(v, 3)}
          />
          <Scatter data={data} dataKey="y" shape={dot(2.6, "#000")} isAnimationActive={false} zIndex={600} />
          <Line
            data={model}
            dataKey="y"
            type="monotone"
            stroke={ORANGE}
            strokeWidth={lineWidth}
            dot={false}
            activeDot={false}
            isAnimationActive={false}
            zIndex={650}
          />
          <Scatter data={binned} dataKey="y" shape={dot(5.3, GREEN)} isAnimationActive={false} zIndex={700} />
          <ReferenceArea
            x1={xDomain[0]}
            x2={xDomain[1]}
            y1={yDomain[0]}
            y2={yDomain[1]}
            fill="none"
            fillOpacity={0}
            stroke={INK}
            strokeWidth={1.2}
            ifOverflow="visible"
            zIndex={800}
          />
        </ComposedChart>
      </div>
      {band && (
        // uncertainty band sits on top of the points, as in the original figure
        <div style={{ position: "absolute", left, top: 0, pointerEvents: "none" }}>
          <ComposedChart width={width} height={597} margin={{ top: 2, right: marginRight, bottom: 66, left: yWidth }}>
            <XAxis type="number" dataKey="x" domain={xDomain} allowDataOverflow hide />
            <YAxis type="number" domain={yDomain} allowDataOverflow hide />
            <Area
              data={band}
              dataKey="band"
              type="monotone"
              stroke="none"
              fill={ORANGE}
              fillOpacity={0.5}
              activeDot={false}
              isAnimationActive={false}
            />
          </ComposedChart>
        </div>
      )}
    </>
  );
}

function LegendBox({ x }: { x: number }) {
  return (
    <g fontFamily={FONT} fontSize={16.5} fill={INK}>
      <rect x={x} y={437} width={121} height={84} rx={4} fill="#fff" fillOpacity={0.8} stroke="#cccccc" />
      <line x1={x + 5} x2={x + 42} y1={451} y2={451} stroke={ORANGE} strokeWidth={2.5} />
      <circle cx={x + 24} cy={478} r={5.5} fill={GREEN} />
      <circle cx={x + 25} cy={505.5} r={2.6} fill="#000" />
      <text x={x + 56} y={458}>model</text>
      <text x={x + 56} y={484}>binned</text>
      <text x={x + 56} y={510.5}>data</text>
    </g>
  );
}

export default function App() {
  return (
    <div style={{ position: "absolute", left: 0, top: 0, width: 1375, height: 597, background: "#fff", fontFamily: FONT }}>
      <Panel
        left={0}
        width={730}
        marginRight={3}
        yWidth={122}
        yLabels
        skipX={0.15}
        data={waspData}
        model={pairs(waspModelX, waspModelY)}
        binned={pairs(waspBinX, waspBinY)}
        lineWidth={2.5}
      />
      <Panel
        left={700}
        width={675}
        marginRight={44}
        yWidth={27}
        yLabels={false}
        skipX={-0.15}
        data={hatsData}
        model={pairs(hatsModelX, hatsModelY)}
        binned={pairs(hatsBinX, hatsBinY)}
        band={hatsBand}
        lineWidth={2}
      />
      <svg width={1375} height={597} style={{ position: "absolute", left: 0, top: 0, pointerEvents: "none" }}>
        <g fontFamily={FONT} fill={INK}>
          <text x={422.5} y={41.5} fontSize={22} textAnchor="middle">WASP-121 b</text>
          <text x={1030} y={41.5} fontSize={22} textAnchor="middle">HATS-67 b</text>
          <text x={130} y={516.5} fontSize={20.6}>Period = 1.2749 +/- 1.2095e-05 d</text>
          <text x={736} y={516.5} fontSize={20.6}>Period = 1.6091 +/- 0.0005 d</text>
          <text x={423} y={588} fontSize={26} textAnchor="middle">Time Since Midtransit [days]</text>
          <text x={1029} y={588} fontSize={26} textAnchor="middle">Time Since Midtransit [days]</text>
          <text x={31} y={266} fontSize={26} textAnchor="middle" transform="rotate(-90 31 266)">Relative Flux</text>
        </g>
        <LegendBox x={597} />
        <LegendBox x={1202} />
      </svg>
    </div>
  );
}
